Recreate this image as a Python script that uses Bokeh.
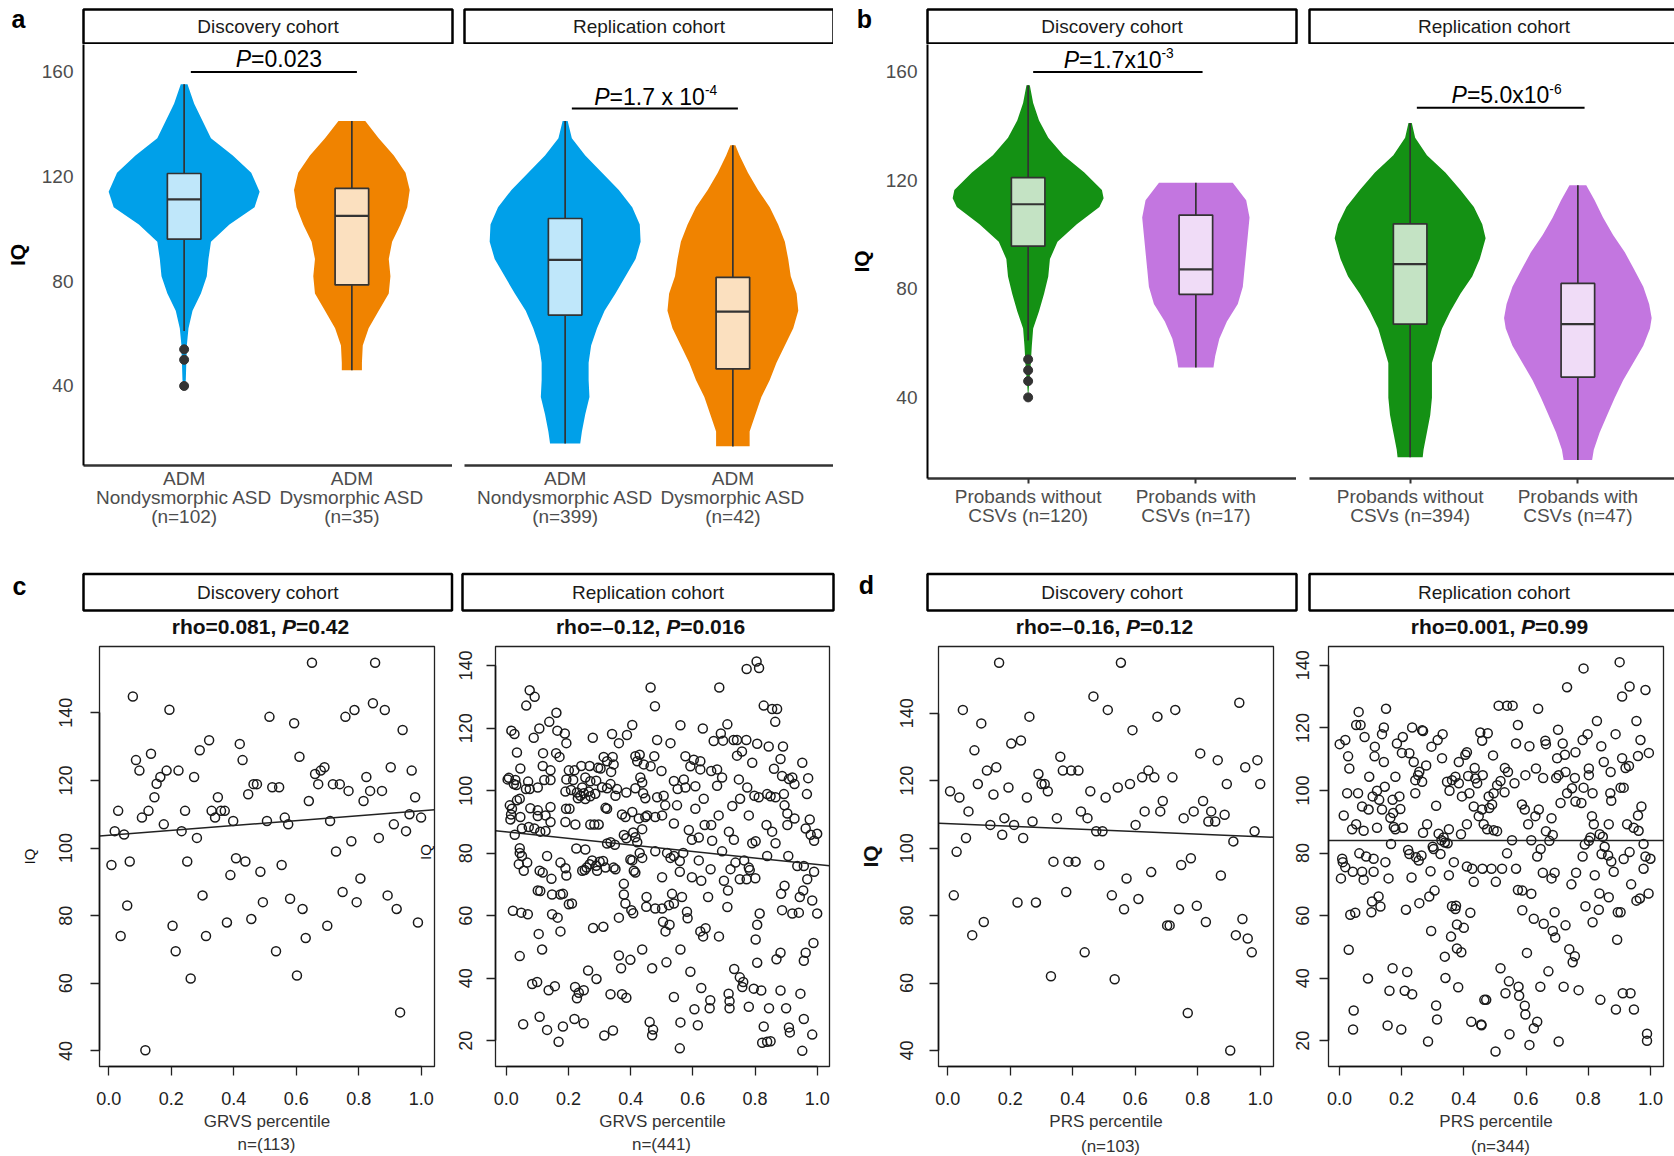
import math
from bokeh.plotting import figure
from bokeh.models import Range1d, FixedTicker, Label, PrintfTickFormatter
from bokeh.layouts import row, column
from bokeh.embed import file_html
from bokeh.resources import INLINE
from bokeh.core.properties import value

FONT = "Liberation Sans"

# ----------------------------------------------------------------- data: panels a / b
a_disc_labels = ["ADM\nNondysmorphic ASD\n(n=102)", "ADM\nDysmorphic ASD\n(n=35)"]
a_rep_labels = ["ADM\nNondysmorphic ASD\n(n=399)", "ADM\nDysmorphic ASD\n(n=42)"]
b_disc_labels = ["Probands without\nCSVs (n=120)", "Probands with\nCSVs (n=17)"]
b_rep_labels = ["Probands without\nCSVs (n=394)", "Probands with\nCSVs (n=47)"]
cohorts = ["Discovery cohort", "Replication cohort"]
yticks_violin = [40, 80, 120, 160]

# violin outlines: IQ level and half width (in category units)
a_disc_nondys_iq = [155.3, 147.9, 134.7, 128.1, 121.5, 114.2, 108.3, 101.7, 95.1, 88.5, 81.9, 75.3, 68.7, 62.1, 55.5, 42.3, 39.7]
a_disc_nondys_hw = [0.02, 0.06, 0.16, 0.29, 0.40, 0.45, 0.42, 0.27, 0.16, 0.145, 0.135, 0.10, 0.05, 0.026, 0.016, 0.01, 0.0]
a_disc_dys_iq = [141.3, 134.7, 128.1, 121.5, 114.9, 108.3, 101.7, 95.1, 88.5, 81.9, 75.3, 68.7, 62.1, 55.5, 48.9, 46.0]
a_disc_dys_hw = [0.08, 0.16, 0.25, 0.32, 0.345, 0.33, 0.29, 0.24, 0.22, 0.23, 0.22, 0.16, 0.10, 0.065, 0.06, 0.06]
a_rep_nondys_iq = [141.3, 134.7, 128.1, 121.5, 114.9, 108.3, 101.7, 95.1, 88.5, 81.9, 75.3, 68.7, 62.1, 55.5, 48.9, 42.3, 35.8, 29.2, 22.6, 18.0]
a_rep_nondys_hw = [0.015, 0.04, 0.12, 0.22, 0.32, 0.40, 0.445, 0.45, 0.42, 0.36, 0.30, 0.235, 0.19, 0.155, 0.14, 0.14, 0.145, 0.12, 0.10, 0.09]
a_rep_dys_iq = [132.0, 128.1, 121.5, 114.9, 108.3, 101.7, 95.1, 88.5, 81.9, 75.3, 68.7, 62.1, 55.5, 48.9, 42.3, 35.8, 29.2, 22.6, 17.0]
a_rep_dys_hw = [0.015, 0.04, 0.09, 0.15, 0.22, 0.27, 0.31, 0.33, 0.345, 0.38, 0.39, 0.36, 0.31, 0.26, 0.22, 0.17, 0.135, 0.10, 0.10]

b_disc_without_iq = [155.1, 148.5, 142.1, 135.7, 129.3, 122.9, 116.5, 113.4, 110.2, 103.8, 97.4, 91.0, 84.6, 78.2, 71.8, 65.4, 59.0, 52.7, 40.0]
b_disc_without_hw = [0.01, 0.03, 0.065, 0.12, 0.21, 0.335, 0.44, 0.45, 0.425, 0.29, 0.175, 0.13, 0.12, 0.095, 0.065, 0.03, 0.022, 0.016, 0.0]
b_disc_with_iq = [119.1, 112.7, 106.3, 99.9, 93.5, 87.2, 80.8, 74.4, 68.0, 61.6, 55.2, 51.0]
b_disc_with_hw = [0.22, 0.30, 0.32, 0.31, 0.30, 0.29, 0.28, 0.25, 0.185, 0.14, 0.115, 0.105]
b_rep_without_iq = [141.2, 135.7, 129.3, 122.9, 116.5, 110.2, 103.8, 98.7, 91.0, 84.6, 78.2, 71.8, 65.4, 59.0, 52.7, 46.3, 39.9, 33.5, 27.1, 20.7, 17.9]
b_rep_without_hw = [0.01, 0.03, 0.10, 0.21, 0.30, 0.38, 0.43, 0.45, 0.415, 0.37, 0.30, 0.24, 0.19, 0.16, 0.13, 0.13, 0.13, 0.12, 0.10, 0.08, 0.075]
b_rep_with_iq = [118.2, 112.7, 106.3, 99.9, 93.5, 87.2, 80.8, 74.4, 69.3, 65.4, 59.0, 52.7, 46.3, 39.9, 33.5, 27.1, 20.7, 16.9]
b_rep_with_hw = [0.05, 0.10, 0.15, 0.21, 0.28, 0.335, 0.39, 0.425, 0.44, 0.43, 0.39, 0.33, 0.27, 0.22, 0.175, 0.13, 0.095, 0.085]

# box stats: lower whisker, Q1, median, Q3, upper whisker
a_disc_nondys_box = [61, 96.1, 111.3, 121.2, 155.3]
a_disc_dys_box = [46, 78.6, 105, 115.5, 141.3]
a_rep_nondys_box = [18, 67.1, 88.2, 104, 141.3]
a_rep_dys_box = [16.9, 46.5, 68.4, 81.5, 132]
b_disc_without_box = [61, 95.8, 111.2, 121, 155.1]
b_disc_with_box = [51, 78, 87.2, 107.2, 119.1]
b_rep_without_box = [17.9, 67, 89.1, 104, 141.2]
b_rep_with_box = [16.9, 47.5, 67, 82, 118.2]
a_disc_nondys_outliers = [54, 50, 40]
b_disc_without_outliers = [54, 50, 46, 40]

# p-value annotations (text pieces: text, style, relative size, raise)
a_disc_p = [("P", "italic", 1.0, 0.0), ("=0.023", "normal", 1.0, 0.0)]
a_rep_p = [("P", "italic", 1.0, 0.0), ("=1.7 x 10", "normal", 1.0, 0.0), ("-4", "normal", 0.6, 0.28)]
b_disc_p = [("P", "italic", 1.0, 0.0), ("=1.7x10", "normal", 1.0, 0.0), ("-3", "normal", 0.6, 0.28)]
b_rep_p = [("P", "italic", 1.0, 0.0), ("=5.0x10", "normal", 1.0, 0.0), ("-6", "normal", 0.6, 0.28)]

# ----------------------------------------------------------------- data: panels c / d
c_titles = [[("rho=0.081, ", "bold", 1.0, 0.0), ("P", "bold italic", 1.0, 0.0), ("=0.42", "bold", 1.0, 0.0)],
            [("rho=\u20130.12, ", "bold", 1.0, 0.0), ("P", "bold italic", 1.0, 0.0), ("=0.016", "bold", 1.0, 0.0)]]
d_titles = [[("rho=\u20130.16, ", "bold", 1.0, 0.0), ("P", "bold italic", 1.0, 0.0), ("=0.12", "bold", 1.0, 0.0)],
            [("rho=0.001, ", "bold", 1.0, 0.0), ("P", "bold italic", 1.0, 0.0), ("=0.99", "bold", 1.0, 0.0)]]
c_xlabel = "GRVS percentile"
d_xlabel = "PRS percentile"
c_nlabels = ["n=(113)", "n=(441)"]
d_nlabels = ["(n=103)", "(n=344)"]
xticks_pct = [0.0, 0.2, 0.4, 0.6, 0.8, 1.0]
yticks_c_disc = [40, 60, 80, 100, 120, 140]
yticks_rep = [20, 40, 60, 80, 100, 120, 140]

# regression lines (intercept, slope)
c_disc_fit = (103.8, 7.2)
c_rep_fit = (86.8, -10.4)
d_disc_fit = (107.3, -3.9)
d_rep_fit = (84.0, 0.0)

# (percentile, IQ)
c_disc_pts = [(0.65,154.8),(0.852,154.8),(0.077,144.8),(0.194,140.9),(0.514,138.8),(0.593,136.9),(0.757,138.8),(0.786,140.8),(0.845,142.8),(0.883,140.8),(0.94,134.9),(0.321,131.9),(0.291,128.9),(0.419,130.8),(0.135,127.9),(0.087,126),(0.428,126),(0.61,127),(0.098,122.9),(0.185,122.9),(0.223,122.9),(0.165,121),(0.153,119),(0.273,121),(0.69,123.9),(0.678,122.9),(0.66,121.9),(0.824,121),(0.902,123.9),(0.969,122.9),(0.146,115),(0.349,115),(0.446,115.9),(0.463,118.9),(0.474,118.9),(0.523,118),(0.545,118),(0.67,118.9),(0.717,118.9),(0.739,118.9),(0.767,116.9),(0.836,116.9),(0.874,116.9),(0.64,113.9),(0.815,113.9),(0.98,115),(0.03,111),(0.127,111),(0.106,109),(0.244,111),(0.329,111),(0.34,109),(0.359,111),(0.371,111),(0.398,108),(0.506,108),(0.563,109),(0.574,107),(0.708,108),(0.962,110),(0.999,109),(0.176,107),(0.019,105),(0.049,104),(0.233,105),(0.282,103),(0.912,107),(0.951,105),(0.864,103),(0.776,102),(0.0085,95),(0.067,96),(0.251,96),(0.407,97),(0.437,96),(0.389,92),(0.485,93),(0.553,95),(0.727,99),(0.805,91),(0.059,83),(0.30,86),(0.493,84),(0.58,85),(0.62,82),(0.748,87),(0.793,84),(0.892,86),(0.921,82),(0.038,74),(0.204,77),(0.311,74),(0.378,78),(0.456,79),(0.699,77),(0.989,78),(0.214,69.5),(0.535,69.5),(0.63,73.4),(0.262,61.4),(0.602,62.3),(0.932,51.4),(0.117,40.2)]

c_rep_pts = [(0.075,132.1),(0.091,130.0),(0.064,127.2),(0.161,124.9),(0.138,122.0),(0.106,119.9),(0.016,119.2),(0.026,118.1),(0.164,119.2),(0.188,118.3),(0.193,115.2),(0.088,116.9),(0.278,116.9),(0.340,118.1),(0.405,121.0),(0.388,117.8),
(0.034,112.2),(0.118,112.0),(0.160,112.0),(0.171,110.8),(0.313,110.8),(0.342,110.8),(0.324,109.4),(0.345,108.4),(0.415,111.0),(0.429,111.5),(0.362,115.2),
(0.295,107.3),(0.117,107.9),(0.045,107.1),(0.024,102.1),(0.142,106.5),(0.201,106.5),(0.219,106.5),(0.241,107.9),(0.268,107.9),(0.303,107.1),(0.337,106.0),(0.421,109.4),(0.442,108.4),(0.004,103.6),(0.008,104.1),(0.029,103.4),(0.070,102.9),(0.122,103.4),(0.142,103.4),(0.193,103.6),(0.215,103.4),(0.254,104.2),(0.270,103.0),(0.289,103.2),(0.431,104.2),(0.437,102.6),
(0.032,101.8),(0.063,100.5),(0.075,100.5),(0.101,101.0),(0.190,99.7),(0.208,100.2),(0.227,99.4),(0.230,97.6),(0.238,98.4),(0.249,99.2),(0.265,99.7),(0.244,101.0),(0.254,97.3),(0.270,98.2),(0.286,99.0),(0.308,101.1),(0.324,100.8),(0.351,98.4),(0.386,99.4),(0.415,100.8),(0.440,99.2),(0.447,97.6),(0.356,100.5),(0.335,102.1),
(0.034,96.9),(0.043,97.4),(0.077,94.4),(0.101,93.7),(0.142,94.8),(0.192,94.2),(0.203,94.2),(0.319,94.5),(0.324,94.2),(0.372,92.4),(0.383,91.6),(0.405,93.2),(0.426,91.1),(0.447,91.6),(0.011,95.3),(0.018,94.2),(0.015,92.4),(0.013,90.8),(0.045,91.6),(0.101,91.9),(0.126,92.1),(0.142,90.0),
(0.050,87.9),(0.072,88.4),(0.090,87.9),(0.109,86.9),(0.126,87.1),(0.027,85.9),(0.190,90.0),(0.222,89.2),(0.270,89.2),(0.283,89.2),(0.297,89.2),(0.324,83.1),(0.335,83.5),(0.349,82.7),(0.378,85.8),(0.386,84.8),(0.408,86.6),(0.415,85.1),(0.421,83.5),(0.437,87.7),(0.043,81.6),
(0.043,80.1),(0.050,79.1),(0.040,76.5),(0.056,74.4),(0.067,77.0),(0.131,79.1),(0.107,74.4),(0.117,73.8),(0.145,71.8),(0.174,77.0),(0.190,75.2),(0.193,72.9),(0.225,81.5),(0.254,81.2),(0.244,74.4),(0.252,74.6),(0.258,75.4),(0.268,76.5),(0.276,77.7),(0.289,76.0),(0.300,77.3),(0.311,77.5),(0.292,74.4),(0.319,75.4),(0.345,75.4),(0.351,74.9),(0.399,78.0),(0.405,77.7),(0.410,74.4),(0.415,73.8),(0.429,80.1),(0.437,78.5),
(0.101,68.1),(0.109,67.9),(0.147,66.8),(0.174,66.8),(0.182,67.0),(0.201,63.7),(0.211,63.9),(0.378,70.2),(0.378,66.8),(0.383,63.9),(0.402,61.8),(0.408,60.8),(0.451,66.0),(0.450,62.9),(0.362,59.4),(0.021,61.6),(0.048,61.0),(0.069,60.5),(0.147,60.5),(0.165,59.4),(0.312,56.5),(0.279,56.1),
(0.174,55.0),(0.104,54.2),(0.115,49.2),(0.043,47.1),(0.362,47.3),(0.369,43.2),(0.399,45.9),(0.437,49.2),(0.263,42.5),(0.290,39.8),
(0.083,38.2),(0.099,38.8),(0.136,36.2),(0.156,37.5),(0.221,37.2),(0.233,35.4),(0.249,36.2),(0.227,33.6),(0.335,34.9),(0.372,34.9),(0.386,33.8),
(0.054,25.3),(0.107,27.7),(0.131,23.5),(0.182,24.6),(0.219,27.0),(0.249,25.6),(0.315,21.7),(0.343,23.3),(0.168,19.7),(0.461,26.0),
(0.805,141.3),(0.813,139.2),(0.773,138.9),(0.464,133.0),(0.685,133.0),(0.478,127.0),(0.828,127.2),(0.855,126.1),(0.871,126.1),(0.865,122.0),(0.560,120.9),(0.632,119.9),(0.711,121.2),(0.690,118.3),(0.485,116.2),(0.528,115.2),(0.667,115.9),(0.697,116.0),(0.731,116.2),(0.742,116.2),(0.772,116.2),(0.807,115.0),(0.844,114.1),(0.890,114.1),
(0.476,111.0),(0.576,111.0),(0.603,109.9),(0.624,109.4),(0.742,111.2),(0.758,112.5),(0.882,110.1),(0.464,107.8),(0.499,106.3),(0.592,107.8),(0.624,106.8),(0.659,106.3),(0.678,106.8),(0.694,104.2),(0.791,108.9),(0.861,107.0),(0.887,104.7),(0.909,103.7),(0.920,104.2),(0.927,102.1),(0.952,108.9),(0.971,104.0),
(0.539,103.1),(0.551,100.5),(0.571,103.6),(0.576,101.0),(0.608,101.4),(0.678,101.6),(0.748,103.6),(0.775,101.0),(0.850,98.2),(0.967,98.9),(0.485,97.9),(0.506,98.4),(0.511,95.3),(0.549,95.3),(0.635,97.4),(0.608,94.2),(0.683,92.1),(0.727,95.1),(0.752,97.4),(0.780,92.1),(0.798,98.4),(0.812,97.9),(0.839,98.9),(0.866,97.9),(0.893,98.9),(0.895,95.3),(0.904,92.7),
(0.453,92.1),(0.479,91.6),(0.501,92.1),(0.539,89.5),(0.587,87.4),(0.597,84.3),(0.619,85.0),(0.638,89.0),(0.659,89.0),(0.662,84.0),(0.716,86.9),(0.732,84.3),(0.791,83.2),(0.802,83.8),(0.837,89.0),(0.855,86.9),(0.866,83.2),(0.904,89.0),(0.927,91.1),(0.963,87.9),(0.979,85.9),(1.000,86.2),(0.990,84.0),(0.976,90.8),
(0.479,80.6),(0.517,80.1),(0.528,78.5),(0.539,79.1),(0.558,77.5),(0.569,80.1),(0.619,77.7),(0.657,74.9),(0.694,80.6),(0.721,74.9),(0.737,77.0),(0.765,77.7),(0.780,75.4),(0.783,74.6),(0.839,79.1),(0.907,79.1),(0.936,75.9),(0.957,75.9),
(0.501,72.3),(0.558,74.1),(0.597,72.3),(0.627,71.2),(0.649,66.0),(0.700,71.2),(0.713,68.1),(0.711,62.8),(0.751,71.7),(0.773,71.7),(0.801,72.0),(0.968,71.7),(0.990,74.1),
(0.479,62.3),(0.501,62.3),(0.523,63.4),(0.539,63.9),(0.533,67.0),(0.565,66.0),(0.581,61.3),(0.583,59.2),(0.504,58.1),(0.525,57.1),(0.512,55.0),(0.624,55.0),(0.641,56.0),(0.633,53.4),(0.684,53.4),(0.815,60.7),(0.884,67.0),(0.895,69.6),(0.887,61.8),(0.920,60.7),(0.941,61.0),(0.944,66.0),(0.955,68.1),(0.984,64.9),(1.000,60.7),(0.807,57.1),(0.802,52.4),(0.988,51.3),
(0.469,43.2),(0.515,45.1),(0.560,49.2),(0.592,42.1),(0.627,36.9),(0.654,30.4),(0.656,33.0),(0.539,34.0),(0.605,30.1),(0.616,25.0),(0.560,25.9),(0.558,17.6),(0.472,23.6),(0.469,21.8),(0.718,32.7),(0.718,30.4),(0.715,35.1),(0.733,43.0),(0.751,40.3),(0.759,37.2),(0.762,38.8),(0.780,30.9),(0.796,36.7),(0.807,45.0),(0.820,36.1),(0.828,24.6),(0.839,19.7),(0.823,19.4),(0.850,19.9),(0.845,30.4),(0.869,46.1),(0.882,48.2),(0.882,36.1),(0.909,24.3),(0.912,22.7),(0.900,30.4),(0.946,35.1),(0.957,27.0),(0.952,16.8),(0.963,48.2),(0.957,45.6),(0.984,22.0)]

d_disc_pts = [(0.164,155),(0.554,155),(0.466,145),(0.933,143.1),(0.048,141),(0.512,141),(0.728,141),(0.261,139),(0.671,139),(0.107,137),(0.591,135),(0.203,131),(0.234,131.9),(0.085,129),(0.808,128.1),(0.36,127.1),(0.864,126.1),(0.991,126.1),(0.155,124),(0.125,123),(0.368,123),(0.395,123),(0.418,123),(0.642,123),(0.952,124),(0.29,122),(0.622,121),(0.661,121),(0.719,121),(0.096,119),(0.30,119),(0.31,119),(0.583,119),(0.893,119),(1.0,119),(0.007,116.9),(0.32,116.9),(0.456,116.9),(0.544,118),(0.194,118),(0.146,115.9),(0.037,115),(0.253,115),(0.505,115),(0.688,114),(0.817,114),(0.066,110.9),(0.426,110.9),(0.63,110.9),(0.68,110.9),(0.787,110.9),(0.843,110.9),(0.886,109.9),(0.181,108.9),(0.349,108.9),(0.447,108.9),(0.755,108.9),(0.271,107.9),(0.834,107.9),(0.856,107.9),(0.136,106.9),(0.212,106.9),(0.601,106.9),(0.174,104),(0.475,105),(0.495,105),(0.982,105),(0.058,103),(0.241,103),(0.028,98.9),(0.914,102),(0.338,96),(0.386,96),(0.409,96),(0.485,95),(0.747,95),(0.778,97),(0.651,92.9),(0.874,91.9),(0.572,91),(0.019,86),(0.379,87),(0.525,86),(0.61,84.9),(0.223,83.9),(0.282,83.9),(0.564,81.9),(0.74,81.9),(0.797,82.9),(0.943,79),(0.115,78.1),(0.826,78.1),(0.702,77.1),(0.71,77.1),(0.078,74.2),(0.922,74.2),(0.96,73.2),(0.438,69.1),(0.973,69.1),(0.33,62),(0.534,61.1),(0.768,51.1),(0.904,40)]

d_rep_pts = [(0.15,126.1),(0.062,125.1),(0.054,120.9),(0.068,120.9),(0.143,120.1),(0.137,118),(0.234,120.1),(0.266,119.2),(0.269,119),(0.332,118),(0.453,118.5),(0.001,114.8),(0.019,116.1),(0.081,117.1),(0.204,117.1),(0.185,115),(0.316,116.1),(0.296,114),(0.114,114),(0.028,110.9),(0.113,110.9),(0.201,112),(0.225,111.9),(0.239,109.1),(0.143,109.1),(0.279,108),(0.33,110.3),(0.41,112.2),(0.405,111.4),(0.384,109.1),(0.032,107),(0.435,107.2),(0.096,104.4),(0.18,104.4),(0.253,104.9),(0.257,106),(0.373,104.4),(0.384,102.3),(0.346,102.8),(0.362,103.3),(0.414,104.6),(0.437,103.8),(0.244,103.3),(0.266,102.8),(0.025,99.1),(0.06,99.1),(0.121,99.9),(0.107,98.1),(0.128,97),(0.146,101.2),(0.171,97),(0.193,98.1),(0.244,99.1),(0.354,99.9),(0.394,98.1),(0.418,99.1),(0.443,102.3),(0.014,92),(0.073,94.9),(0.094,93.9),(0.137,93.9),(0.164,91.3),(0.173,92.8),(0.196,94.1),(0.311,95.1),(0.432,94.9),(0.448,91.8),(0.41,89.2),(0.041,87.6),(0.054,89.2),(0.078,87.1),(0.121,88.1),(0.175,88.3),(0.18,87.6),(0.204,88.1),(0.269,86.5),(0.282,89.2),(0.319,86.2),(0.335,85),(0.352,87.6),(0.391,86),(0.166,82.9),(0.328,84.1),(0.339,83.4),(0.348,83.1),(0.009,78.2),(0.011,77.1),(0.019,75.5),(0.005,71.9),(0.064,79.9),(0.086,78.9),(0.11,78.2),(0.043,74),(0.073,74),(0.078,71.5),(0.11,74),(0.148,77.1),(0.158,71.9),(0.221,81),(0.225,79.7),(0.246,78.7),(0.255,77.6),(0.232,72.2),(0.264,79.2),(0.3,82),(0.303,81.3),(0.325,79.7),(0.293,74.2),(0.352,72.9),(0.368,77.1),(0.41,75.7),(0.427,75),(0.432,70.8),(0.126,66.1),(0.105,64.5),(0.103,61.1),(0.132,62.9),(0.035,60.3),(0.051,60.9),(0.214,61.9),(0.257,64),(0.289,66.1),(0.306,68),(0.362,63),(0.373,62.1),(0.375,63.2),(0.421,60.9),(0.295,55.1),(0.359,53.3),(0.378,57.2),(0.4,56.1),(0.378,49.5),(0.392,48.3),(0.03,49.1),(0.092,39.9),(0.171,43.2),(0.218,42),(0.161,36),(0.21,36),(0.234,34.9),(0.341,40.1),(0.339,46.9),(0.382,37.1),(0.311,31.3),(0.314,26.8),(0.046,29.7),(0.044,23.6),(0.155,24.9),(0.199,23.6),(0.285,19.8),(0.424,26.1),(0.456,25.2),(0.466,33.1),
(0.901,141),(0.785,139),(0.732,133),(0.933,133.2),(0.909,130),(0.984,132.1),(0.512,127.1),(0.539,127.1),(0.557,127.1),(0.639,126.1),(0.574,120.9),(0.828,122.2),(0.955,122.2),(0.459,115.9),(0.477,118.3),(0.568,115),(0.611,114.1),(0.662,115.9),(0.664,114.8),(0.703,119.4),(0.718,115),(0.759,112.2),(0.782,116.1),(0.798,118),(0.842,114.1),(0.888,118),(0.968,116.1),(0.995,112),(0.494,111.2),(0.7,110.3),(0.725,111.4),(0.909,110.3),(0.96,111),(0.461,104.9),(0.532,107.2),(0.542,105.9),(0.563,102.3),(0.507,101.7),(0.518,103),(0.598,104.9),(0.632,107),(0.655,104),(0.697,104),(0.705,104.9),(0.727,105.9),(0.757,104),(0.802,107),(0.802,104.9),(0.85,109.1),(0.872,105.9),(0.931,107.8),(0.92,107.2),(0.904,100.9),(0.914,100.9),(0.871,99.1),(0.874,96.7),(0.814,99.1),(0.48,98.1),(0.496,99.1),(0.531,99.4),(0.482,94.4),(0.491,95.5),(0.459,93.9),(0.587,95.5),(0.596,93.9),(0.641,93.9),(0.63,91.8),(0.682,91.1),(0.607,89.2),(0.711,96),(0.732,99.1),(0.748,100.7),(0.759,96.5),(0.778,96),(0.785,100.9),(0.812,91.8),(0.818,89.2),(0.866,89.2),(0.925,89.2),(0.946,88.1),(0.962,87.1),(0.971,94.9),(0.96,92),(0.464,89.2),(0.475,87.6),(0.496,87.3),(0.507,87),(0.555,84.1),(0.617,84.1),(0.664,87),(0.686,85.8),(0.675,83.9),(0.647,81.3),(0.636,78.9),(0.539,79.9),(0.789,82.7),(0.802,83.9),(0.807,85),(0.837,86),(0.847,85.2),(0.853,82),(0.843,79.7),(0.864,79.2),(0.874,77.3),(0.882,74),(0.782,78.9),(0.914,78.1),(0.933,80.3),(0.978,82.9),(0.984,78.9),(1.0,78.2),(0.978,75),(0.46,75),(0.489,75),(0.523,75),(0.568,75),(0.503,70.8),(0.654,73.7),(0.692,73.7),(0.682,71.9),(0.761,73.7),(0.746,70),(0.821,72.9),(0.574,68.2),(0.588,68),(0.617,67),(0.938,70),(0.955,64.8),(0.966,65.5),(0.994,67.1),(0.836,67.1),(0.866,65.9),(0.791,63),(0.834,61.9),(0.814,57.9),(0.895,61.1),(0.904,61.1),(0.588,61.7),(0.625,59),(0.657,57.4),(0.686,55.1),(0.694,53),(0.692,61.1),(0.727,56.9),(0.893,52.3),(0.603,48.1),(0.739,49.3),(0.757,47),(0.75,45.1),(0.672,42.2),(0.518,43.2),(0.545,39),(0.576,37.3),(0.578,34.4),(0.534,35.2),(0.596,31.2),(0.598,28.4),(0.636,26.1),(0.625,24),(0.646,37.3),(0.721,37.3),(0.769,36.2),(0.839,33.1),(0.889,30),(0.911,35.2),(0.936,35.2),(0.947,30),(0.472,33.1),(0.457,25),(0.547,22.1),(0.611,18.7),(0.502,16.6),(0.705,19.8),(0.989,22.3),(0.989,20)]

# ----------------------------------------------------------------- styles / helpers
BLUE, ORANGE, GREEN, PURPLE = "#00A0E9", "#F08300", "#149114", "#C376E0"
DARK = "#333333"
GRAY_TXT = "#4d4d4d"

W_REG = {' ': 278, '(': 333, ')': 333, ',': 278, '-': 333, '.': 278, '=': 584, 'x': 500, 'P': 667,
         'r': 333, 'h': 556, 'o': 556, '\u2013': 556}
for _d in "0123456789":
    W_REG[_d] = 556
W_BOLD = dict(W_REG)
W_BOLD.update({'r': 389, 'h': 611, 'o': 611, 'x': 556})


def tw(s, size, bold):
    tab = W_BOLD if bold else W_REG
    return sum(tab.get(ch, 556) for ch in s) * size / 1000.0


def rich(p, x, y, pieces, size, color="#111111"):
    ws = [tw(t, size * sc, "bold" in st) for t, st, sc, r in pieces]
    off = -sum(ws) / 2.0
    for (t, st, sc, r), w in zip(pieces, ws):
        p.text(x=[x], y=[y], text=[t], x_offset=off, y_offset=-r * size,
               text_font=value(FONT), text_font_size="%.1fpx" % (size * sc),
               text_font_style=st, text_align="left", text_baseline="middle",
               text_color=color)
        off += w


def blank(width, height, x0, y0):
    # a plain drawing area whose coordinates are page pixels (y downwards)
    p = figure(width=width, height=height, x_range=Range1d(x0, x0 + width),
               y_range=Range1d(y0 + height, y0),
               x_axis_location=None, y_axis_location=None, toolbar_location=None,
               output_backend="svg", min_border_left=0, min_border_right=0,
               min_border_top=0, min_border_bottom=0)
    p.outline_line_color = None
    p.grid.grid_line_color = None
    p.background_fill_color = "white"
    p.border_fill_color = "white"
    return p


def txt(p, x, y, t, size, color="#111111", style="normal", align="center"):
    p.text(x=[x], y=[y], text=[t], text_font=value(FONT), text_font_size=size,
           text_font_style=style, text_align=align, text_baseline="middle", text_color=color)


def strip(p, x0, x1, y0, y1, text):
    p.quad(left=[x0], right=[x1], top=[y0], bottom=[y1], fill_color="white",
           line_color="black", line_width=2.5)
    txt(p, (x0 + x1) / 2.0, (y0 + y1) / 2.0, text, "19px", "#1a1a1a")


def draw_violin(p, xc, iq, hw, color, box, outliers=None):
    xs = [xc + h for h in hw] + [xc - h for h in reversed(hw)]
    ys = list(iq) + list(reversed(iq))
    p.patch(xs, ys, fill_color=color, line_color=None)
    lo, q1, med, q3, hi = box
    p.segment(x0=[xc, xc], y0=[q3, q1], x1=[xc, xc], y1=[hi, lo], line_color=DARK, line_width=1.7)
    p.quad(left=[xc - 0.1], right=[xc + 0.1], bottom=[q1], top=[q3], fill_color="white",
           fill_alpha=0.75, line_color=DARK, line_width=1.7)
    p.segment(x0=[xc - 0.1], x1=[xc + 0.1], y0=[med], y1=[med], line_color=DARK, line_width=2.2)
    if outliers:
        p.scatter(x=[xc] * len(outliers), y=outliers, size=9, fill_color=DARK, line_color=DARK)


def violin_fig(width, frame_h, left, bottom, xr, yr, with_yaxis, ticks):
    p = figure(width=width, height=frame_h + bottom, x_range=Range1d(*xr), y_range=Range1d(*yr),
               toolbar_location=None, output_backend="svg",
               min_border_left=left, min_border_right=0, min_border_top=0, min_border_bottom=bottom,
               y_axis_location="left" if with_yaxis else None)
    p.outline_line_color = None
    p.xgrid.visible = False
    p.ygrid.visible = False
    ax = p.xaxis[0]
    ax.axis_line_color = DARK
    ax.axis_line_width = 2.5
    ax.major_tick_line_color = None
    ax.major_tick_out = 0
    ax.major_tick_in = 0
    ax.major_label_standoff = 0
    if ticks:
        # category tick marks (labels are written underneath, in the footer)
        ax.ticker = FixedTicker(ticks=[], minor_ticks=[1, 2])
        ax.minor_tick_line_color = DARK
        ax.minor_tick_line_width = 2
        ax.minor_tick_out = 5
        ax.minor_tick_in = 0
    else:
        ax.ticker = FixedTicker(ticks=[], minor_ticks=[])
        ax.minor_tick_line_color = None
    if with_yaxis:
        ay = p.yaxis[0]
        ay.ticker = FixedTicker(ticks=yticks_violin)
        ay.major_tick_line_color = None
        ay.minor_tick_line_color = None
        ay.major_label_text_font = FONT
        ay.major_label_text_font_size = "19px"
        ay.major_label_text_color = GRAY_TXT
        ay.major_label_standoff = 4
        ay.axis_line_color = "black"
        ay.axis_line_width = 2
        ay.axis_label = "IQ"
        ay.axis_label_text_font = FONT
        ay.axis_label_text_font_size = "21px"
        ay.axis_label_text_font_style = "bold"
        ay.axis_label_text_color = "black"
        ay.axis_label_standoff = 10
    return p


def cat_labels(p, frame_left, xr, frame_w, labels, y_first, dy):
    # category labels under a violin panel, placed at the category positions of that panel
    for i, lab in enumerate(labels):
        xpx = frame_left + (i + 1 - xr[0]) / (xr[1] - xr[0]) * frame_w
        for j, line in enumerate(lab.split("\n")):
            txt(p, xpx, y_first + j * dy, line, "19px", GRAY_TXT)


def pbar(p, x0, x1, y, tx, ty, pieces):
    p.segment(x0=[x0], x1=[x1], y0=[y], y1=[y], line_color="black", line_width=2)
    rich(p, tx, ty, pieces, 23, "black")


def scatter_fig(width, height, left, right, top, frame_h, xr, yr, yticks, pts, fit, xlabel,
                ylab_standoff, ylabel=None, ylabel_size="15px", ylabel_bold=False, ylabel_standoff=18):
    bottom = height - top - frame_h
    p = figure(width=width, height=height, x_range=Range1d(*xr), y_range=Range1d(*yr),
               toolbar_location=None, output_backend="svg",
               min_border_left=left, min_border_right=right, min_border_top=top,
               min_border_bottom=bottom)
    p.xgrid.visible = False
    p.ygrid.visible = False
    p.outline_line_color = "#222222"
    p.outline_line_width = 1.3
    xs = [q[0] for q in pts]
    ys = [q[1] for q in pts]
    p.scatter(xs, ys, marker="circle", size=9, fill_color=None, line_color="#1a1a1a", line_width=1.5)
    a, b = fit
    p.line([xr[0], xr[1]], [a + b * xr[0], a + b * xr[1]], line_color="#222222", line_width=1.5)
    ax = p.xaxis[0]
    ax.ticker = FixedTicker(ticks=xticks_pct)
    ax.formatter = PrintfTickFormatter(format="%.1f")
    ax.bounds = (0, 1)
    ay = p.yaxis[0]
    ay.ticker = FixedTicker(ticks=yticks)
    ay.bounds = (yticks[0], yticks[-1])
    ay.major_label_orientation = "vertical"
    for axis in (ax, ay):
        axis.major_label_text_font = FONT
        axis.major_label_text_font_size = "18px"
        axis.major_label_text_color = "#222222"
        axis.major_tick_line_color = "#222222"
        axis.major_tick_line_width = 1.3
        axis.major_tick_out = 9
        axis.major_tick_in = 0
        axis.minor_tick_line_color = None
        axis.axis_line_color = "#111111"
        axis.axis_line_width = 1.6
    ax.major_label_standoff = 16
    ay.major_label_standoff = int(ylab_standoff)
    ax.axis_label = xlabel
    ax.axis_label_text_font = FONT
    ax.axis_label_text_font_size = "17px"
    ax.axis_label_text_font_style = "normal"
    ax.axis_label_text_color = DARK
    ax.axis_label_standoff = 4
    if ylabel:
        ay.axis_label = ylabel
        ay.axis_label_text_font = FONT
        ay.axis_label_text_font_size = ylabel_size
        ay.axis_label_text_font_style = "bold" if ylabel_bold else "normal"
        ay.axis_label_text_color = "#111111"
        ay.axis_label_standoff = int(ylabel_standoff)
    return p


# ================================================================= top: panel a
XR = (0.4, 2.6)
ya = (9.6, 170.5)
hAa = blank(833, 44, 0, 0)
txt(hAa, 18, 18, "a", "25px", "black", "bold")
strip(hAa, 83, 452, 9, 43, cohorts[0])
strip(hAa, 464, 833, 9, 43, cohorts[1])

aD = violin_fig(452, 421, 83, 2, XR, ya, True, False)
draw_violin(aD, 1, a_disc_nondys_iq, a_disc_nondys_hw, BLUE, a_disc_nondys_box, a_disc_nondys_outliers)
draw_violin(aD, 2, a_disc_dys_iq, a_disc_dys_hw, ORANGE, a_disc_dys_box)
pbar(aD, 1.04, 2.03, 160, 1.565, 165, a_disc_p)

aR = violin_fig(381, 421, 12, 2, XR, ya, False, False)
draw_violin(aR, 1, a_rep_nondys_iq, a_rep_nondys_hw, BLUE, a_rep_nondys_box)
draw_violin(aR, 2, a_rep_dys_iq, a_rep_dys_hw, ORANGE, a_rep_dys_box)
pbar(aR, 1.04, 2.03, 146, 1.54, 150.5, a_rep_p)

fAa = blank(833, 63, 0, 467)
cat_labels(fAa, 83, XR, 369, a_disc_labels, 478, 19)
cat_labels(fAa, 464, XR, 369, a_rep_labels, 478, 19)

groupA = column(hAa, row(aD, aR, spacing=0), fAa, spacing=0)

# ================================================================= top: panel b
yb = (10.1, 170.1)
XRb = (0.4, 0.4 + 365 * 2.2 / 369)
hAb = blank(841, 44, 833, 0)
txt(hAb, 864, 18, "b", "25px", "black", "bold")
strip(hAb, 927, 1296, 9, 43, cohorts[0])
strip(hAb, 1309, 1678, 9, 43, cohorts[1])

bD = violin_fig(463, 434, 94, 6, XR, yb, True, True)
draw_violin(bD, 1, b_disc_without_iq, b_disc_without_hw, GREEN, b_disc_without_box, b_disc_without_outliers)
draw_violin(bD, 2, b_disc_with_iq, b_disc_with_hw, PURPLE, b_disc_with_box)
pbar(bD, 1.03, 2.04, 160, 1.54, 164.5, b_disc_p)

bR = violin_fig(378, 434, 13, 6, XRb, yb, False, True)
draw_violin(bR, 1, b_rep_without_iq, b_rep_without_hw, GREEN, b_rep_without_box)
draw_violin(bR, 2, b_rep_with_iq, b_rep_with_hw, PURPLE, b_rep_with_box)
pbar(bR, 1.04, 2.04, 146.8, 1.575, 151.5, b_rep_p)

fAb = blank(841, 46, 833, 484)
cat_labels(fAb, 927, XR, 369, b_disc_labels, 495.5, 19.7)
cat_labels(fAb, 1309, XR, 369, b_rep_labels, 495.5, 19.7)

groupB = column(hAb, row(bD, bR, spacing=0), fAb, spacing=0)

# ================================================================= header of c, d
hB = blank(1674, 111, 0, 530)
txt(hB, 19, 585, "c", "25px", "black", "bold")
txt(hB, 866, 584, "d", "25px", "black", "bold")
strip(hB, 83, 451.5, 573.5, 610, cohorts[0])
strip(hB, 462, 833, 573.5, 610, cohorts[1])
strip(hB, 927, 1296, 573.5, 610, cohorts[0])
strip(hB, 1309, 1678, 573.5, 610, cohorts[1])
rich(hB, 260, 626, c_titles[0], 21)
rich(hB, 650, 626, c_titles[1], 21)
rich(hB, 1104, 626, d_titles[0], 21)
rich(hB, 1499, 626, d_titles[1], 21)

# ================================================================= panels c, d
RH = 492
cL = scatter_fig(440, RH, 99, 6, 3, 428, (-0.0297, 1.042), (35.4, 159.6), yticks_c_disc,
                 c_disc_pts, c_disc_fit, c_xlabel, 18, ylabel="IQ", ylabel_size="15px",
                 ylabel_standoff=19)
cL.add_layout(Label(x=1.012, y=98.8, text="IQ", angle=math.pi / 2, text_font=FONT,
                    text_font_size="15px", text_color="#111111", text_align="center",
                    text_baseline="middle"))
cR = scatter_fig(396, RH, 55, 7, 1, 427, (-0.035, 1.0396), (11.8, 146.1), yticks_rep,
                 c_rep_pts, c_rep_fit, c_xlabel, 14)
dL = scatter_fig(447, RH, 102, 10, 5, 428, (-0.030, 1.0425), (35.25, 159.8), yticks_c_disc,
                 d_disc_pts, d_disc_fit, d_xlabel, 16, ylabel="IQ", ylabel_size="21px",
                 ylabel_bold=True, ylabel_standoff=16)
dR = scatter_fig(391, RH, 45, 11, 5, 427, (-0.035, 1.042), (11.8, 146.0), yticks_rep,
                 d_rep_pts, d_rep_fit, d_xlabel, 10)

fC = blank(1674, 23, 0, 641 + RH)
txt(fC, 266, 1143.5, c_nlabels[0], "17px", DARK)
txt(fC, 661, 1143.5, c_nlabels[1], "17px", DARK)
txt(fC, 1110, 1145.5, d_nlabels[0], "17px", DARK)
txt(fC, 1500, 1145.5, d_nlabels[1], "17px", DARK)

layout = column(row(groupA, groupB, spacing=0), hB, row(cL, cR, dL, dR, spacing=0), fC, spacing=0)

with open("out.html", "w") as f:
    f.write(file_html(layout, INLINE))
